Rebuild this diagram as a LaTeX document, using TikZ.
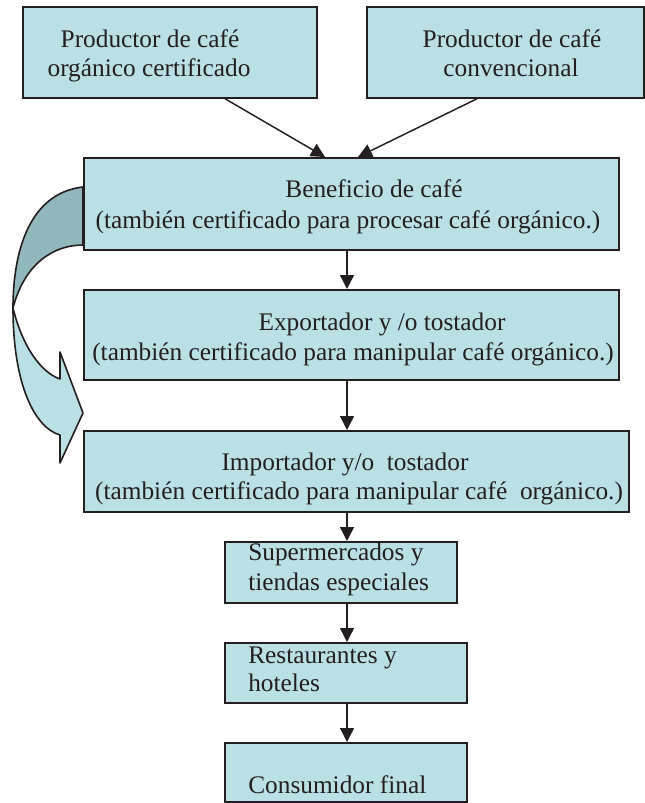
\documentclass[tikz,border=0pt]{standalone}
\usepackage{fontspec}
\setmainfont{Liberation Serif}
\usetikzlibrary{arrows.meta,calc}
\definecolor{boxfill}{RGB}{187,224,227}
\definecolor{bandfill}{RGB}{146,183,186}
\definecolor{ink}{RGB}{35,31,32}
\begin{document}
\begin{tikzpicture}[x=0.75pt,y=-0.75pt,
  box/.style={draw=ink,line width=1.3pt,fill=boxfill,anchor=north west,inner sep=0pt},
  lbl/.style={inner sep=0pt,font=\fontsize{19}{22}\selectfont,text=ink},
  arr/.style={draw=ink,line width=1.1pt,-{Triangle[length=10.5pt,width=10.5pt]}},
  band/.style={draw=ink,line width=1.2pt,line join=round}]
\useasboundingbox (0,0) rectangle (645,803);

% curved block arrow (back part, then front part)
\path[band,fill=bandfill] (83,187) .. controls (30,193) and (13,250) .. (13,308)
  .. controls (25,262) and (55,245) .. (83,245) -- cycle;
\path[band,fill=boxfill] (13,308) .. controls (13,385) and (35,428) .. (60,435)
  -- (60,463) -- (83,413) -- (60,352) -- (60,379)
  .. controls (40,372) and (22,345) .. (13,308) -- cycle;

% boxes
\node[box,minimum width=220.5pt,minimum height=68.25pt] (p1) at (22,6) {};
\node[box,minimum width=207.75pt,minimum height=68.25pt] (p2) at (366,6) {};
\node[box,minimum width=401.25pt,minimum height=69pt] (ben) at (83,157) {};
\node[box,minimum width=401.25pt,minimum height=67.5pt] (exp) at (83,289) {};
\node[box,minimum width=408.75pt,minimum height=60.75pt] (imp) at (83,430) {};
\node[box,minimum width=174pt,minimum height=45.75pt] (sup) at (224,541) {};
\node[box,minimum width=181.5pt,minimum height=45pt] (res) at (224,642) {};
\node[box,minimum width=181.5pt,minimum height=44.25pt] (con) at (224,742) {};

% texts
\node[lbl,anchor=base] (p1a) at (150,47) {Productor de café};
\node[lbl,anchor=base] (p1b) at (149,76) {orgánico certificado};
\node[lbl,anchor=base] (p2a) at (512,47) {Productor de café};
\node[lbl,anchor=base] (p2b) at (511,76) {convencional};
\node[lbl,anchor=base] (bena) at (374,197) {Beneficio de café};
\node[lbl,anchor=base] (benb) at (348,228) {(también certificado para procesar café orgánico.)};
\node[lbl,anchor=base] (expa) at (382,330) {Exportador y /o tostador};
\node[lbl,anchor=base] (expb) at (353,360) {(también certificado para manipular café orgánico.)};
\node[lbl,anchor=base] (impa) at (345,470) {Importador y/o\ \ tostador};
\node[lbl,anchor=base] (impb) at (359,499) {(también certificado para manipular café\ \ orgánico.)};
\node[lbl,anchor=base west] (supa) at (248,560) {Supermercados y};
\node[lbl,anchor=base west] (supb) at (248,590) {tiendas especiales};
\node[lbl,anchor=base west] (resa) at (248,663) {Restaurantes y};
\node[lbl,anchor=base west] (resb) at (248,691) {hoteles};
\node[lbl,anchor=base west] (cona) at (248,793) {Consumidor final};

% connectors
\draw[arr] ($(p1.south west)+(203,0)$) -- ($(ben.north west)+(242,0)$);
\draw[arr] ($(p2.south west)+(111,0)$) -- ($(ben.north west)+(275,0)$);
\draw[arr] ($(ben.south west)+(264,0)$) -- ($(exp.north west)+(264,0)$);
\draw[arr] ($(exp.south west)+(264,0)$) -- ($(imp.north west)+(264,0)$);
\draw[arr] ($(imp.south west)+(264,0)$) -- ($(sup.north west)+(123,0)$);
\draw[arr] ($(sup.south west)+(123,0)$) -- ($(res.north west)+(123,0)$);
\draw[arr] ($(res.south west)+(123,0)$) -- ($(con.north west)+(123,0)$);
\end{tikzpicture}
\end{document}
